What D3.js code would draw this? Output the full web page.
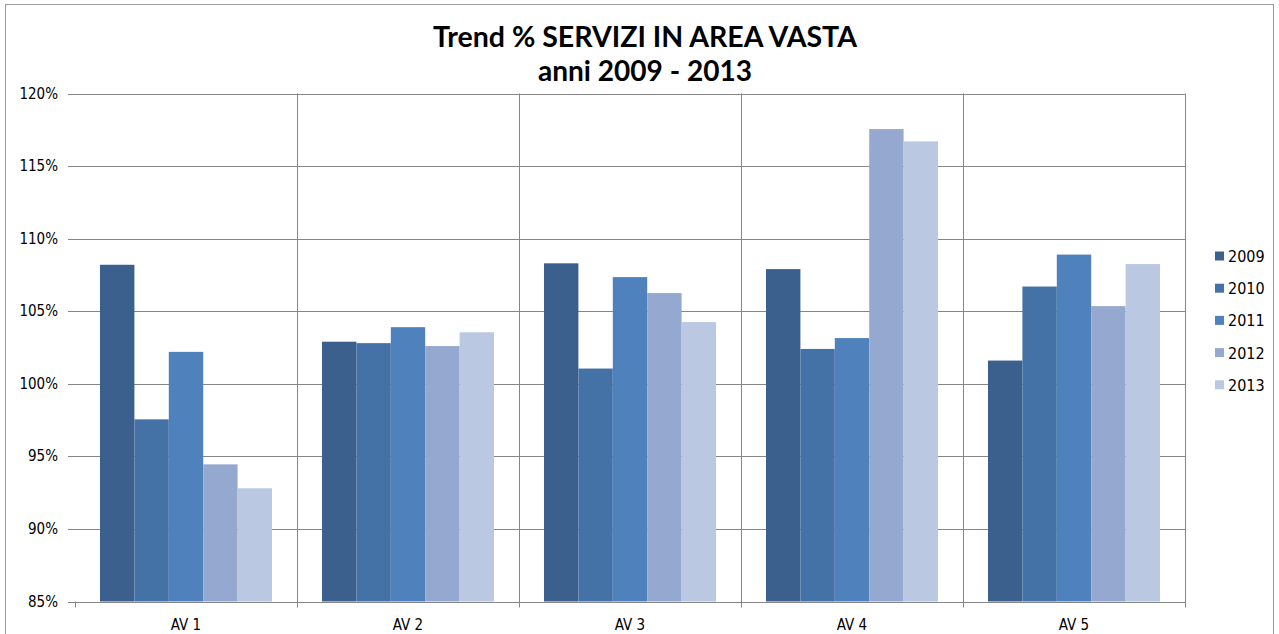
<!DOCTYPE html>
<html>
<head>
<meta charset="utf-8">
<script src="https://cdn.jsdelivr.net/npm/d3@7"></script>
<style>
  body { margin: 0; background: #fff; }
  svg text { font-family: Tahoma, "DejaVu Sans Condensed", "Liberation Sans", sans-serif; fill: #000; }
</style>
</head>
<body>
<svg id="chart" width="1279" height="634"></svg>
<script>
// dati
var categories = ['AV 1', 'AV 2', 'AV 3', 'AV 4', 'AV 5'];
var years = ['2009', '2010', '2011', '2012', '2013'];
var v2009 = [108.2, 102.9, 108.3, 107.9, 101.6];
var v2010 = [97.55, 102.8, 101.05, 102.4, 106.7];
var v2011 = [102.2, 103.9, 107.35, 103.15, 108.9];
var v2012 = [94.45, 102.6, 106.25, 117.55, 105.35];
var v2013 = [92.8, 103.55, 104.25, 116.7, 108.25];
var yTicks = [85, 90, 95, 100, 105, 110, 115, 120];
var colors = ['#3b608d', '#4472a6', '#4f81bd', '#95a9d0', '#bbc8e1'];

var series = [v2009, v2010, v2011, v2012, v2013];

var svg = d3.select('#chart');

var margin = {top: 93.5, left: 75, right: 1185, bottom: 601.5};

var x0 = d3.scaleBand()
    .domain(categories)
    .range([margin.left, margin.right])
    .paddingInner(0)
    .paddingOuter(0);

var x1 = d3.scaleBand()
    .domain(years)
    .range([25, x0.bandwidth() - 25]);

var y = d3.scaleLinear()
    .domain([85, 120])
    .range([margin.bottom, margin.top]);

// bordo del grafico
svg.append('rect')
    .attr('x', 5.5).attr('y', 4.5)
    .attr('width', 1268).attr('height', 640)
    .attr('fill', 'none')
    .attr('stroke', '#9a9a9a')
    .attr('stroke-width', 1);

// titolo
var title = svg.append('g').attr('class', 'title');
title.append('text')
    .attr('x', 645).attr('y', 47)
    .attr('text-anchor', 'middle')
    .style('font-family', 'Lato, "Open Sans", sans-serif')
    .style('font-weight', 'bold')
    .style('font-size', '29px')
    .attr('textLength', 424)
    .attr('lengthAdjust', 'spacingAndGlyphs')
    .text('Trend % SERVIZI IN AREA VASTA');
title.append('text')
    .attr('x', 645).attr('y', 81)
    .attr('text-anchor', 'middle')
    .style('font-family', 'Lato, "Open Sans", sans-serif')
    .style('font-weight', 'bold')
    .style('font-size', '29px')
    .attr('textLength', 214)
    .attr('lengthAdjust', 'spacingAndGlyphs')
    .text('anni 2009 - 2013');

// griglia orizzontale + tacche
svg.append('g')
    .selectAll('line')
    .data(yTicks)
    .enter().append('line')
    .attr('x1', margin.left - 7)
    .attr('x2', margin.right)
    .attr('y1', function (d) { return Math.round(y(d)) + 0.5; })
    .attr('y2', function (d) { return Math.round(y(d)) + 0.5; })
    .attr('stroke', '#868686');

// griglia verticale tra le categorie
var vLines = categories.slice(1).map(function (c) { return x0(c); });
vLines.push(margin.right);
svg.append('g')
    .selectAll('line')
    .data(vLines)
    .enter().append('line')
    .attr('x1', function (d) { return Math.round(d) + 0.5; })
    .attr('x2', function (d) { return Math.round(d) + 0.5; })
    .attr('y1', margin.top)
    .attr('y2', margin.bottom + 6)
    .attr('stroke', '#868686');
svg.append('line')
    .attr('x1', margin.left + 0.5).attr('x2', margin.left + 0.5)
    .attr('y1', margin.bottom).attr('y2', margin.bottom + 6)
    .attr('stroke', '#868686');

// etichette asse y
svg.append('g')
    .selectAll('text')
    .data(yTicks)
    .enter().append('text')
    .attr('x', 58)
    .attr('y', function (d) { return y(d) + 5; })
    .attr('text-anchor', 'end')
    .style('font-size', '15px')
    .text(function (d) { return d + '%'; });

// barre
var groups = svg.append('g')
    .selectAll('g')
    .data(categories)
    .enter().append('g')
    .attr('transform', function (d) { return 'translate(' + x0(d) + ',0)'; });

groups.selectAll('rect')
    .data(function (c, i) {
        return years.map(function (yr, j) { return {year: yr, value: series[j][i], idx: j}; });
    })
    .enter().append('rect')
    .attr('x', function (d) { return x1(d.year); })
    .attr('width', x1.bandwidth())
    .attr('y', function (d) { return y(d.value); })
    .attr('height', function (d) { return y(85) - y(d.value); })
    .attr('fill', function (d) { return colors[d.idx]; });

// etichette asse x
svg.append('g')
    .selectAll('text')
    .data(categories)
    .enter().append('text')
    .attr('x', function (d) { return x0(d) + x0.bandwidth() / 2; })
    .attr('y', 630)
    .attr('text-anchor', 'middle')
    .style('font-size', '15px')
    .text(function (d) { return d; });

// legenda
var legend = svg.append('g')
    .selectAll('g')
    .data(years)
    .enter().append('g')
    .attr('transform', function (d, i) { return 'translate(1215,' + (256 + i * 32.2) + ')'; });

legend.append('rect')
    .attr('x', 0).attr('y', -4.5)
    .attr('width', 9).attr('height', 9)
    .attr('fill', function (d, i) { return colors[i]; });

legend.append('text')
    .attr('x', 13)
    .attr('y', 6)
    .style('font-size', '16px')
    .text(function (d) { return d; });
</script>
</body>
</html>
